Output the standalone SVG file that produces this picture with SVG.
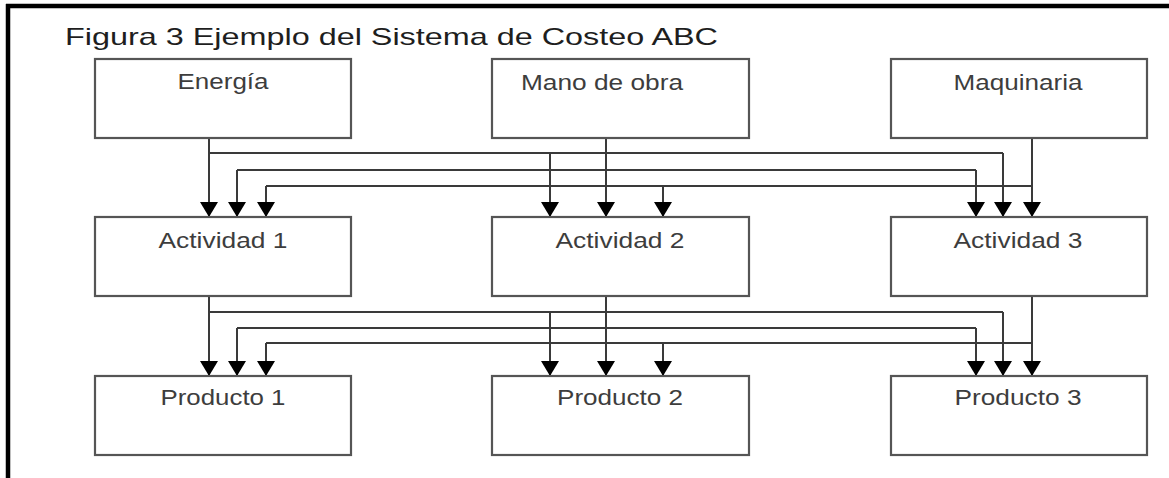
<svg xmlns="http://www.w3.org/2000/svg" width="1169" height="478" viewBox="0 0 1169 478">
  <style>
    .box { fill: #ffffff; stroke: #555555; stroke-width: 2.2; }
    .lbl { font-family: "Liberation Sans", Arial, sans-serif; font-size: 22px; fill: #3d3d3d; text-anchor: middle; }
    .title { font-family: "Liberation Sans", Arial, sans-serif; font-size: 24px; fill: #1e1e1e; }
    .ln { fill: none; stroke: #3a3a3a; stroke-width: 2; }
    .arr { fill: none; stroke: #3a3a3a; stroke-width: 2; marker-end: url(#ah); }
  </style>
  <defs>
    <marker id="ah" viewBox="0 0 15 18" refX="15" refY="9" markerWidth="15" markerHeight="18" markerUnits="userSpaceOnUse" orient="auto">
      <path d="M0,0 L15,9 L0,18 z" fill="#000000"/>
    </marker>
  </defs>
  <rect x="0" y="0" width="1169" height="478" fill="#ffffff"/>
  <g id="frame">
    <line x1="6" y1="6" x2="1169" y2="6" stroke="#000000" stroke-width="4.5"/>
    <line x1="8" y1="4" x2="8" y2="478" stroke="#000000" stroke-width="4.5"/>
  </g>
  <text id="title" class="title" x="65" y="45" textLength="653" lengthAdjust="spacingAndGlyphs">Figura 3 Ejemplo del Sistema de Costeo ABC</text>

  <g id="connectors">
    <!-- Level 1: resources to activities -->
    <path class="arr" d="M209,139 V217"/>
    <path class="ln" d="M209,153 H1003"/>
    <path class="arr" d="M550,153 V217"/>
    <path class="arr" d="M1003,153 V217"/>
    <path class="arr" d="M606,139 V217"/>
    <path class="ln" d="M237,170 H976"/>
    <path class="arr" d="M237,170 V217"/>
    <path class="arr" d="M976,170 V217"/>
    <path class="arr" d="M1032,139 V217"/>
    <path class="ln" d="M266,186 H1032"/>
    <path class="arr" d="M266,186 V217"/>
    <path class="arr" d="M663,186 V217"/>
    <!-- Level 2: activities to products -->
    <path class="arr" d="M209,296 V376"/>
    <path class="ln" d="M209,312 H1003"/>
    <path class="arr" d="M550,312 V376"/>
    <path class="arr" d="M1003,312 V376"/>
    <path class="arr" d="M606,296 V376"/>
    <path class="ln" d="M237,328 H976"/>
    <path class="arr" d="M237,328 V376"/>
    <path class="arr" d="M976,328 V376"/>
    <path class="arr" d="M1032,296 V376"/>
    <path class="ln" d="M266,343 H1032"/>
    <path class="arr" d="M266,343 V376"/>
    <path class="arr" d="M663,343 V376"/>
  </g>

  <g id="energia">
    <rect class="box" x="95" y="59" width="256" height="79"/>
    <text class="lbl" x="223" y="89" textLength="91" lengthAdjust="spacingAndGlyphs">Energía</text>
  </g>
  <g id="mano-de-obra">
    <rect class="box" x="492" y="59" width="257" height="79"/>
    <text class="lbl" x="602" y="90" textLength="162" lengthAdjust="spacingAndGlyphs">Mano de obra</text>
  </g>
  <g id="maquinaria">
    <rect class="box" x="891" y="59" width="256" height="79"/>
    <text class="lbl" x="1018" y="90" textLength="129" lengthAdjust="spacingAndGlyphs">Maquinaria</text>
  </g>

  <g id="actividad-1">
    <rect class="box" x="95" y="217" width="256" height="79"/>
    <text class="lbl" x="223" y="248" textLength="129" lengthAdjust="spacingAndGlyphs">Actividad 1</text>
  </g>
  <g id="actividad-2">
    <rect class="box" x="492" y="217" width="257" height="79"/>
    <text class="lbl" x="620" y="248" textLength="129" lengthAdjust="spacingAndGlyphs">Actividad 2</text>
  </g>
  <g id="actividad-3">
    <rect class="box" x="891" y="217" width="256" height="79"/>
    <text class="lbl" x="1018" y="248" textLength="129" lengthAdjust="spacingAndGlyphs">Actividad 3</text>
  </g>

  <g id="producto-1">
    <rect class="box" x="95" y="376" width="256" height="79"/>
    <text class="lbl" x="223" y="405" textLength="125" lengthAdjust="spacingAndGlyphs">Producto 1</text>
  </g>
  <g id="producto-2">
    <rect class="box" x="492" y="376" width="257" height="79"/>
    <text class="lbl" x="620" y="405" textLength="126" lengthAdjust="spacingAndGlyphs">Producto 2</text>
  </g>
  <g id="producto-3">
    <rect class="box" x="891" y="376" width="256" height="79"/>
    <text class="lbl" x="1018" y="405" textLength="127" lengthAdjust="spacingAndGlyphs">Producto 3</text>
  </g>
</svg>
